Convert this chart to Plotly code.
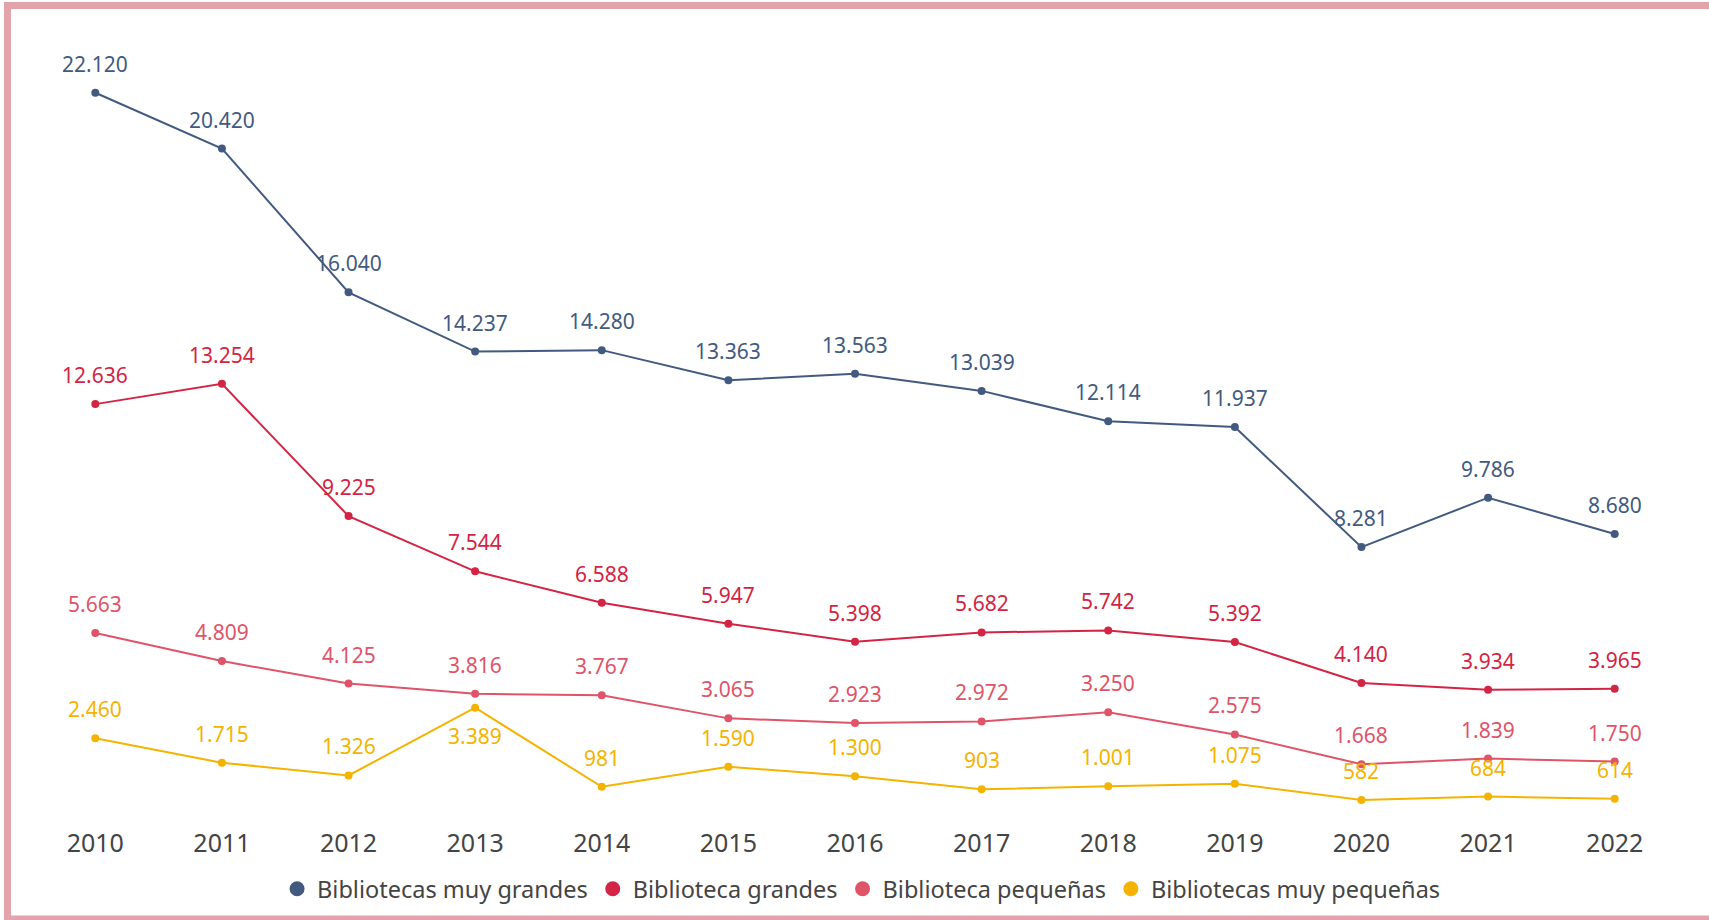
import plotly.graph_objects as go

years = [2010, 2011, 2012, 2013, 2014, 2015, 2016, 2017, 2018, 2019, 2020, 2021, 2022]
muy_grandes = [22120, 20420, 16040, 14237, 14280, 13363, 13563, 13039, 12114, 11937, 8281, 9786, 8680]
grandes = [12636, 13254, 9225, 7544, 6588, 5947, 5398, 5682, 5742, 5392, 4140, 3934, 3965]
pequenas = [5663, 4809, 4125, 3816, 3767, 3065, 2923, 2972, 3250, 2575, 1668, 1839, 1750]
muy_pequenas = [2460, 1715, 1326, 3389, 981, 1590, 1300, 903, 1001, 1075, 582, 684, 614]

series = [
    ("Bibliotecas muy grandes", muy_grandes, "#425a80"),
    ("Biblioteca grandes", grandes, "#d42443"),
    ("Biblioteca pequeñas", pequenas, "#df5468"),
    ("Bibliotecas muy pequeñas", muy_pequenas, "#f5b301"),
]

FONT = "Noto Sans, Lato, sans-serif"


def fmt(v):
    return f"{v:,}".replace(",", ".")


fig = go.Figure()
annotations = []
for name, vals, col in series:
    fig.add_trace(go.Scatter(
        x=years, y=vals, name=name, mode="lines+markers",
        line=dict(color=col, width=2),
        marker=dict(color=col, size=8),
        showlegend=False, cliponaxis=False,
    ))
    # legend entry (marker only)
    fig.add_trace(go.Scatter(
        x=[None], y=[None], name=name, mode="markers",
        marker=dict(color=col, size=15), showlegend=True,
    ))
    for i, (x, v) in enumerate(zip(years, vals)):
        below = (name == "Bibliotecas muy pequeñas" and i == 3)
        annotations.append(dict(
            x=x, y=v, xref="x", yref="y", text=fmt(v), showarrow=False,
            yshift=-28 if below else 29, xanchor="center", yanchor="middle",
            font=dict(color=col, size=21, family=FONT),
        ))

W, H = 1709, 920
L, R, T, B = 32, 31, 31, 101
pw, ph = W - L - R, H - T - B


def px_x(px):
    return (px - L) / pw


def px_y(py):
    return (H - B - py) / ph


fig.add_shape(type="rect", xref="paper", yref="paper",
              x0=px_x(7.5), x1=px_x(1730), y0=px_y(5.5), y1=px_y(919),
              line=dict(color="#e2a3ab", width=7), fillcolor="rgba(0,0,0,0)", layer="below")

fig.update_layout(
    width=W, height=H,
    margin=dict(l=L, r=R, t=T, b=B, autoexpand=False),
    paper_bgcolor="white", plot_bgcolor="white",
    font=dict(family=FONT, color="#444444"),
    annotations=annotations,
    showlegend=True,
    legend=dict(orientation="h", x=0.504, xanchor="center", y=px_y(889), yanchor="middle",
                font=dict(size=23.5, color="#444444", family=FONT),
                traceorder="normal", itemwidth=30),
    xaxis=dict(range=[2009.5, 2022.5], tickmode="array", tickvals=years,
               ticktext=[str(y) for y in years], showgrid=False, zeroline=False,
               showline=False, ticks="outside", ticklen=2, tickcolor="white",
               automargin=False,
               tickfont=dict(size=25, color="#444444", family=FONT)),
    yaxis=dict(range=[0, 24000], visible=False, showgrid=False, zeroline=False,
               automargin=False),
)
fig.write_html("out.html", config={"displayModeBar": False},
               post_script="document.body.style.margin='0';document.body.style.overflow='hidden';")
